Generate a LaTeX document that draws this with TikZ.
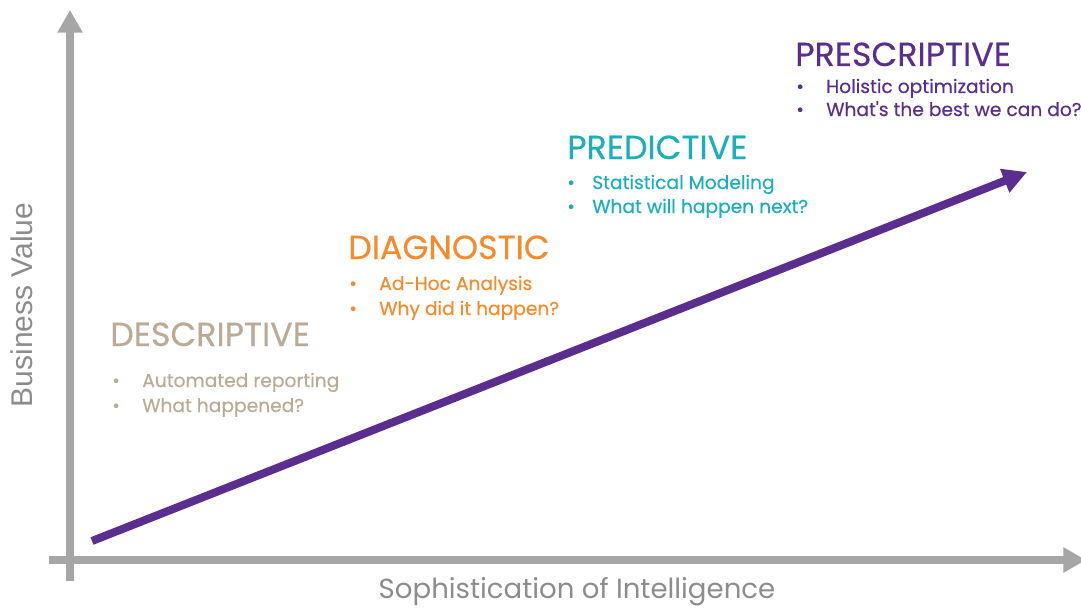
\documentclass[tikz,border=0pt]{standalone}
\usepackage{fontspec}
\setmainfont{Poppins}
\newfontfamily\axisfont{Liberation Sans}
\newfontfamily\medfont{Poppins}[FakeBold=0.35]
\usetikzlibrary{arrows.meta}
\definecolor{axisgray}{HTML}{A6A6A6}
\definecolor{labelgray}{HTML}{8C8C8C}
\definecolor{purp}{HTML}{5A2D8E}
\definecolor{teal2}{HTML}{1AAFBB}
\definecolor{orng}{HTML}{F48B2C}
\definecolor{beige}{HTML}{BBAA94}
\tikzset{
  axis/.style={draw=axisgray, line width=6pt, -{Triangle[length=17pt,width=18pt]}},
  growth/.style={draw=purp, line width=6pt, -{Triangle[length=18pt,width=18pt]}},
  head/.style={anchor=base west, inner sep=0pt, font=\medfont\fontsize{25}{25}\selectfont},
  item/.style={anchor=base west, inner sep=0pt, font=\medfont\fontsize{14}{14}\selectfont},
}
\begin{document}
\begin{tikzpicture}[x=0.75pt,y=-0.75pt]
\useasboundingbox (0,0) rectangle (1081,610);
% axes
\coordinate (ybot) at (70,581);
\coordinate (ytop) at (70,10);
\coordinate (xleft) at (49,560);
\coordinate (xright) at (1086,560);
\draw[axis] (ybot) -- (ytop);
\draw[axis] (xleft) -- (xright);
% growth arrow
\coordinate (gs) at (92,541);
\coordinate (ge) at (1027,172);
\draw[growth] (gs) -- (ge);
% axis labels
\node[font=\fontsize{20.7}{20.7}\selectfont, text=labelgray, inner sep=0pt] (xl) at (577,592) {Sophistication of Intelligence};
\node[font=\axisfont\fontsize{22.5}{22.5}\selectfont, text=labelgray, rotate=90, inner sep=0pt] (yl) at (22,305) {Business Value};
% PRESCRIPTIVE
\node[head, text=purp] (p1) at (795,66) {PRESCRIPTIVE};
\node[item, text=purp] (p1a) at (796,93) {•};
\node[item, text=purp] (p1b) at (826,93) {Holistic optimization};
\node[item, text=purp] (p1c) at (796,116) {•};
\node[item, text=purp] (p1d) at (826,116) {What{\char"27}s the best we can do?};
% PREDICTIVE
\node[head, text=teal2] (p2) at (567,159) {PREDICTIVE};
\node[item, text=teal2] (p2a) at (567,189) {•};
\node[item, text=teal2] (p2b) at (592,189) {Statistical Modeling};
\node[item, text=teal2] (p2c) at (567,213) {•};
\node[item, text=teal2] (p2d) at (592,213) {What will happen next?};
% DIAGNOSTIC
\node[head, text=orng] (p3) at (348,259) {DIAGNOSTIC};
\node[item, text=orng] (p3a) at (349,290) {•};
\node[item, text=orng] (p3b) at (379,290) {Ad-Hoc Analysis};
\node[item, text=orng] (p3c) at (349,315) {•};
\node[item, text=orng] (p3d) at (379,315) {Why did it happen?};
% DESCRIPTIVE
\node[head, text=beige] (p4) at (110,346) {DESCRIPTIVE};
\node[item, text=beige] (p4a) at (112,387) {•};
\node[item, text=beige] (p4b) at (142,387) {Automated reporting};
\node[item, text=beige] (p4c) at (112,412) {•};
\node[item, text=beige] (p4d) at (142,412) {What happened?};
\end{tikzpicture}
\end{document}
